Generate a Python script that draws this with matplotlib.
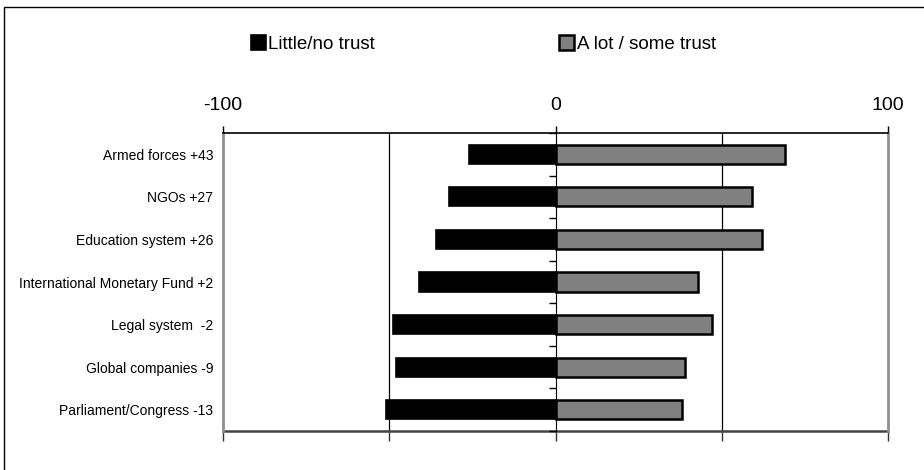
#!/usr/bin/env python3
"""Diverging bar chart: trust in institutions."""

import matplotlib
matplotlib.use("Agg")
import matplotlib.pyplot as plt
from matplotlib.patches import Rectangle

plt.rcParams["font.family"] = ["Liberation Sans", "DejaVu Sans"]

institutions = [
    "Armed forces +43",
    "NGOs +27",
    "Education system +26",
    "International Monetary Fund +2",
    "Legal system  -2",
    "Global companies -9",
    "Parliament/Congress -13",
]
little_no_trust = [26, 32, 36, 41, 49, 48, 51]
some_trust = [69, 59, 62, 43, 47, 39, 38]
top_ticks = [-100, 0, 100]
bottom_ticks = [-100, -50, 0, 50, 100]
grid_at = [-50, 50]

fig = plt.figure(figsize=(9.24, 4.70), dpi=100)
ax = fig.add_axes([223 / 924, 1 - 431 / 470, 665 / 924, 298 / 470])

pos = list(range(len(institutions)))
neg = [-v for v in little_no_trust]

for g in grid_at:
    ax.axvline(g, color="black", lw=0.9, zorder=0)

ax.barh(pos, neg, height=0.45, color="black", edgecolor="black", lw=1.2,
        label="Little/no trust", zorder=2)
ax.barh(pos, some_trust, height=0.45, color="#808080", edgecolor="black", lw=1.8,
        label="A lot / some trust", zorder=2)

ax.set_xlim(-100, 100)
ax.set_ylim(len(institutions) - 0.5, -0.5)

# category labels on the left, no tick marks
ax.set_yticks(pos)
ax.set_yticklabels(institutions, fontsize=10)
ax.tick_params(axis="y", length=0, pad=7)

# value axis labels on top
ax.xaxis.tick_top()
ax.set_xticks(top_ticks)
ax.set_xticklabels([str(t) for t in top_ticks], fontsize=14)
ax.tick_params(axis="x", direction="out", length=5, width=1, pad=9, color="black")

# bottom axis ticks only
sec_x = ax.secondary_xaxis("bottom")
sec_x.set_xticks(bottom_ticks)
sec_x.set_xticklabels([])
sec_x.tick_params(direction="out", length=7, width=1, color="#333333")
sec_x.spines["bottom"].set_color("#444444")
sec_x.spines["bottom"].set_linewidth(1.8)

# category axis at zero with ticks between categories
sec_y = ax.secondary_yaxis(0.5)
sec_y.set_yticks([p + 0.5 for p in [-1] + pos])
sec_y.set_yticklabels([])
sec_y.tick_params(direction="in", length=5, width=1, color="black")
sec_y.spines["left"].set_color("black")
sec_y.spines["left"].set_linewidth(1.0)

for side in ("left", "right"):
    ax.spines[side].set_color("#909090")
    ax.spines[side].set_linewidth(2)
ax.spines["top"].set_color("black")
ax.spines["top"].set_linewidth(1.2)
ax.spines["bottom"].set_visible(False)

fig.legend(loc="center", bbox_to_anchor=(0.523, 0.906), ncol=2, frameon=False,
           fontsize=13.5, handlelength=0.8, handleheight=0.8, handletextpad=0.15,
           columnspacing=9.8)

# outer frame of the chart area
fig.patches.append(Rectangle((4 / 924, -0.1), 1.2, 1.1 - 7 / 470, transform=fig.transFigure,
                             fill=False, edgecolor="black", lw=1.0))

fig.savefig("out.png", dpi=100)
